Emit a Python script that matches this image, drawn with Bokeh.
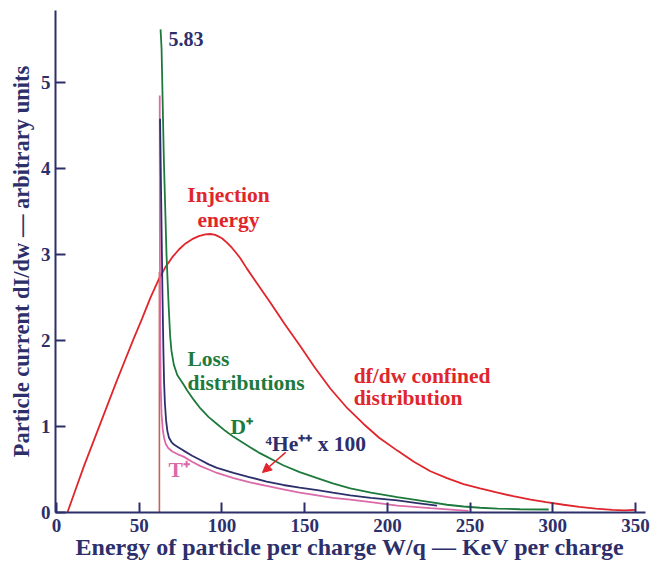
from bokeh.plotting import figure
from bokeh.models import Range1d, Arrow, NormalHead, Label, FixedTicker
from bokeh.embed import file_html
from bokeh.resources import INLINE

# ---- data ----
x_ticks = [0, 50, 100, 150, 200, 250, 300, 350]
y_ticks = [0, 1, 2, 3, 4, 5]
peak_label = "5.83"

confined_x = [6.6, 11.6, 16.6, 21.6, 26.6, 31.6, 36.6, 41.6, 46.6, 51.6, 56.8, 62, 66, 70, 74,
              78, 82, 86, 90, 93, 96, 100, 103, 106, 109, 111,
              115, 120, 129, 138, 147.5, 156, 165.6, 175, 185.6, 195, 206, 216, 226, 236,
              246, 256, 266.6, 276, 286.6, 296, 306.5, 316, 326, 336, 343, 350]
confined_y = [0.0, 0.27, 0.54, 0.79, 1.04, 1.29, 1.54, 1.78, 2.02, 2.25, 2.50, 2.72, 2.86, 2.97, 3.06,
              3.13, 3.18, 3.215, 3.235, 3.24, 3.23, 3.19, 3.14, 3.08, 3.01, 2.96,
              2.84, 2.70, 2.45, 2.19, 1.93, 1.69, 1.44, 1.23, 1.03, 0.87, 0.72, 0.59, 0.48, 0.40,
              0.33, 0.28, 0.23, 0.19, 0.15, 0.12, 0.09, 0.065, 0.045, 0.03, 0.025, 0.03]

d_x = [62.9, 63.5, 64.9, 66.5, 67.8, 68.7, 69.5, 70.9, 73, 76.8, 79, 83, 87, 92, 97, 102, 107,
       112, 117, 122, 127, 132, 137, 147, 157.6, 167, 177.6, 190, 206, 216, 226, 236, 246,
       256, 266.6, 280, 297.5]
d_y = [5.62, 5.40, 4.10, 3.00, 2.40, 2.05, 1.88, 1.72, 1.60, 1.49, 1.42, 1.31, 1.21, 1.11, 1.03,
       0.95, 0.88, 0.82, 0.76, 0.70, 0.65, 0.60, 0.55, 0.47, 0.40, 0.34, 0.28, 0.23, 0.18, 0.15,
       0.12, 0.09, 0.07, 0.055, 0.045, 0.038, 0.035]

he_x = [62.6, 63.3, 64.0, 64.6, 65, 65.5, 66.2, 67, 68, 69.5, 71, 73.5, 76.8, 82, 87, 92, 97,
        107, 117, 127, 137, 147, 157.6, 167, 177.6, 190, 206, 218, 230]
he_y = [4.58, 3.60, 2.60, 1.90, 1.53, 1.28, 1.08, 0.95, 0.87, 0.82, 0.79, 0.76, 0.72, 0.66, 0.61,
        0.56, 0.52, 0.46, 0.41, 0.36, 0.32, 0.29, 0.26, 0.23, 0.20, 0.17, 0.14, 0.11, 0.08]

t_x = [62.4, 62.5, 62.7, 63, 63.5, 64.2, 65, 66, 67.5, 70, 73, 76.8, 82, 87, 92, 97, 107, 117,
       127, 137, 147, 157.6, 167, 177.6, 190, 206, 226, 249]
t_y = [4.85, 3.00, 2.00, 1.45, 1.15, 0.97, 0.87, 0.80, 0.75, 0.71, 0.68, 0.65, 0.59, 0.54, 0.50,
       0.46, 0.40, 0.35, 0.31, 0.27, 0.23, 0.20, 0.17, 0.15, 0.12, 0.08, 0.05, 0.02]

inj_x = [62.2, 62.2]
inj_y = [0.0, 2.8]

NAVY = "#2d2f6b"
RED = "#e0262c"
GREEN = "#1e7a3c"
PINK = "#dc6aa8"
BROWN = "#c4625e"
FONT = "Liberation Serif"

p = figure(width=657, height=565, output_backend="svg", toolbar_location=None,
           x_range=Range1d(-0.6, 356), y_range=Range1d(0, 5.84),
           min_border_left=55, min_border_right=12, min_border_top=10, min_border_bottom=53)
p.outline_line_color = None
p.grid.visible = False

for ax in (p.xaxis[0], p.yaxis[0]):
    ax.axis_line_color = NAVY
    ax.axis_line_width = 2
    ax.major_tick_line_color = NAVY
    ax.major_tick_line_width = 2
    ax.major_tick_in = 10
    ax.major_tick_out = 0
    ax.minor_tick_line_color = None
    ax.major_label_text_font = FONT
    ax.major_label_text_font_style = "bold"
    ax.major_label_text_font_size = "19px"
    ax.major_label_text_color = NAVY
    ax.axis_label_text_font = FONT
    ax.axis_label_text_font_style = "bold"
    ax.axis_label_text_color = NAVY

p.xaxis.ticker = FixedTicker(ticks=x_ticks)
p.yaxis.ticker = FixedTicker(ticks=y_ticks)
p.xaxis.axis_label = "Energy of particle per charge W/q — KeV per charge"
p.yaxis.axis_label = "Particle current dI/dw — arbitrary units"
p.xaxis.axis_label_text_font_size = "24px"
p.yaxis.axis_label_text_font_size = "22.5px"
p.xaxis.major_label_standoff = 6
p.xaxis.axis_label_standoff = -1
p.yaxis.major_label_standoff = 5
p.yaxis.axis_label_standoff = 4

p.line(inj_x, inj_y, line_color=BROWN, line_width=1.6)
p.line(confined_x, confined_y, line_color=RED, line_width=1.8)
p.line(d_x, d_y, line_color=GREEN, line_width=1.8)
p.line(t_x, t_y, line_color=PINK, line_width=1.8)
p.line(he_x, he_y, line_color=NAVY, line_width=1.8)

def lab(x, y, text, color, align="left", size="21.5px"):
    p.add_layout(Label(x=x, y=y, text=text, text_color=color, text_font=FONT,
                       text_font_style="bold", text_font_size=size,
                       text_align=align, text_baseline="middle"))

lab(67.7, 5.51, peak_label, NAVY, size="20px")
lab(104, 3.69, "Injection", RED, align="center")
lab(104, 3.40, "energy", RED, align="center")
lab(79.2, 1.79, "Loss", GREEN)
lab(79.2, 1.51, "distributions", GREEN)
lab(179.6, 1.59, "df/dw confined", RED)
lab(179.6, 1.33, "distribution", RED)
lab(105.2, 0.99, "D⁺", GREEN)
lab(126.4, 0.80, "⁴He⁺⁺ x 100", NAVY)
lab(67.7, 0.49, "T⁺", PINK)

p.add_layout(Arrow(end=NormalHead(size=9, fill_color=RED, line_color=RED),
                   x_start=138.5, y_start=0.70, x_end=124.5, y_end=0.465,
                   line_color=RED, line_width=1.5))

open("out.html", "w").write(file_html(p, INLINE))
